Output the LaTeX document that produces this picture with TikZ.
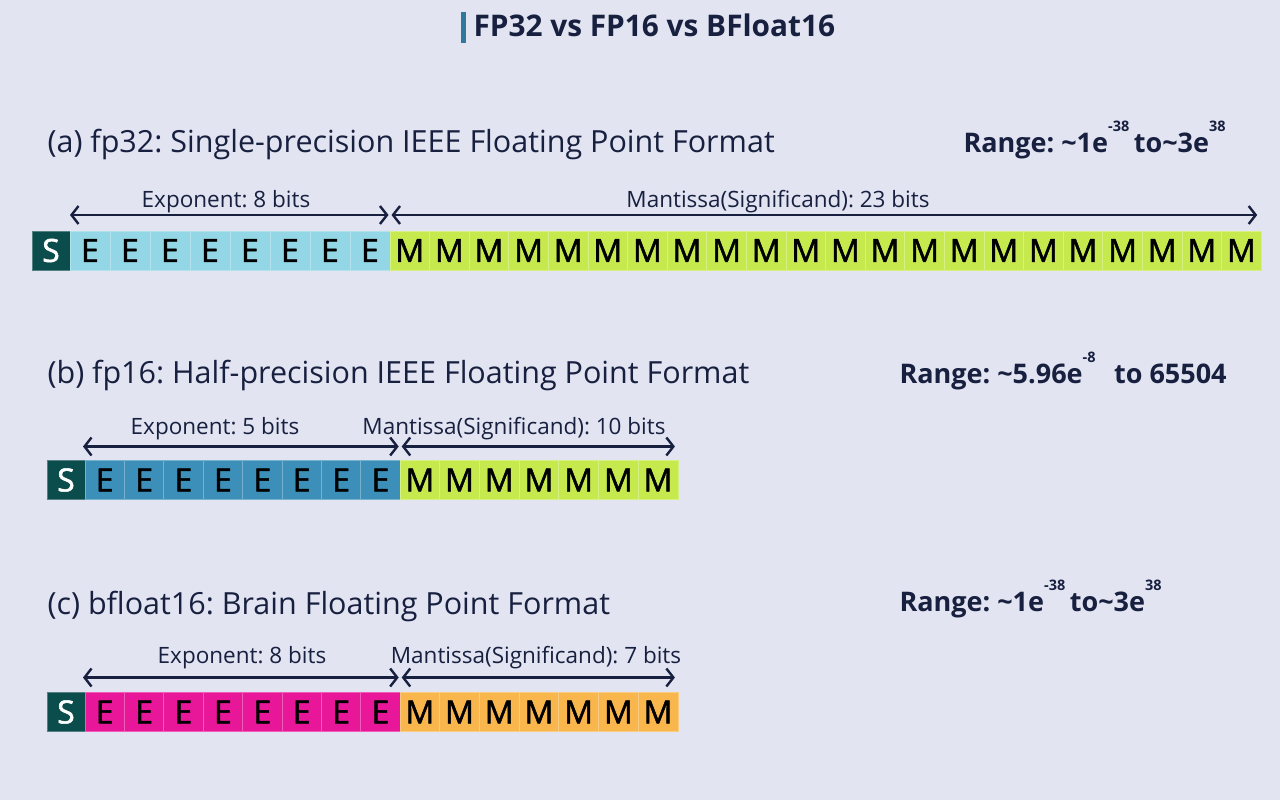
\documentclass[tikz,border=0pt]{standalone}
\usepackage{fontspec}
\setmainfont{Open Sans}
\newfontfamily\cellfont[FakeBold=1.6]{Open Sans}
\frenchspacing
\usetikzlibrary{arrows.meta}

\definecolor{bgcol}{HTML}{E2E4F2}
\definecolor{inkcol}{HTML}{18203F}
\definecolor{barcol}{HTML}{2D7A9A}
\definecolor{signcol}{HTML}{0B4C4C}
\definecolor{aexpcol}{HTML}{93D6E6}
\definecolor{bexpcol}{HTML}{3C8FB8}
\definecolor{cexpcol}{HTML}{E8179A}
\definecolor{mancol}{HTML}{C6EA4E}
\definecolor{cmancol}{HTML}{F8B64C}

\newcommand\rangepow[1]{\raisebox{21pt}{\fontsize{14.5}{14.5}\selectfont #1}}

\tikzset{
  cell/.style={fill=#1, draw=#1!70!white, line width=0.8pt, minimum height=39pt,
    inner sep=0pt, outer sep=0pt, anchor=west, text=black,
    font=\cellfont\fontsize{32}{32}\selectfont},
  signcell/.style={cell=signcol, text=white, minimum width=38pt},
  dimarrow/.style={{Straight Barb[length=7pt,width=18pt]}-{Straight Barb[length=7pt,width=18pt]},
    line width=2.4pt, draw=inkcol},
  sublabel/.style={anchor=base, text=inkcol, font=\fontsize{22.5}{22.5}\selectfont},
  heading/.style={anchor=base west, text=inkcol, font=\fontsize{30.5}{30.5}\selectfont},
  rangetext/.style={anchor=base west, text=inkcol, font=\fontsize{27}{27}\selectfont\bfseries},
}

\begin{document}
\begin{tikzpicture}[x=1pt,y=-1pt]
\fill[bgcol] (0,0) rectangle (1280,800);
\useasboundingbox (0,0) rectangle (1280,800);

% title
\fill[barcol] (461,12) rectangle (466,43);
\node[anchor=base west, text=inkcol, font=\fontsize{29.8}{29.8}\selectfont\bfseries] (title) at (470,37) {FP32 vs FP16 vs BFloat16};

% (a) fp32
\node[heading] (aHead) at (44,152) {(a) fp32: Single-precision IEEE Floating Point Format};
\node[rangetext] (aRange) at (960,152) {Range: \textasciitilde1e\rangepow{-38}\,to\textasciitilde3e\rangepow{38}};
\node[signcell] (aS) at (32,250.5) {S};
\foreach \i in {1,...,8}
  \node[cell=aexpcol, minimum width=40pt] (aE\i) at ({30+40*\i},250.5) {E};
\foreach \i in {1,...,22}
  \node[cell=mancol, minimum width=39.6pt] (aM\i) at ({390+39.6*(\i-1)},250.5) {M};
\draw[dimarrow] ([yshift=16pt]aS.north east) -- ([yshift=16pt,xshift=-1.5pt]aE8.north east);
\draw[dimarrow] ([yshift=16pt,xshift=1.5pt]aE8.north east) -- ([yshift=16pt,xshift=-4pt]aM22.north east);
\node[sublabel] (aExpLbl) at (226,207) {Exponent: 8 bits};
\node[sublabel] (aManLbl) at (778,207) {Mantissa(Significand): 23 bits};

% (b) fp16
\node[heading] (bHead) at (44,383) {(b) fp16: Half-precision IEEE Floating Point Format};
\node[rangetext] (bRange) at (896,383) {Range: \textasciitilde5.96e\rangepow{-8}\ \ \,to 65504};
\node[signcell] (bS) at (47,480) {S};
\foreach \i in {1,...,8}
  \node[cell=bexpcol, minimum width=39.4pt] (bE\i) at ({85+39.4*(\i-1)},480) {E};
\foreach \i in {1,...,7}
  \node[cell=mancol, minimum width=39.7pt] (bM\i) at ({400+39.7*(\i-1)},480) {M};
\draw[dimarrow] ([yshift=14pt,xshift=-2pt]bS.north east) -- ([yshift=14pt,xshift=-1.5pt]bE8.north east);
\draw[dimarrow] ([yshift=14pt,xshift=1.5pt]bE8.north east) -- ([yshift=14pt,xshift=-3pt]bM7.north east);
\node[sublabel] (bExpLbl) at (215,434) {Exponent: 5 bits};
\node[sublabel] (bManLbl) at (514,434) {Mantissa(Significand): 10 bits};

% (c) bfloat16
\node[heading] (cHead) at (44,614) {(c) bfloat16: Brain Floating Point Format};
\node[rangetext] (cRange) at (896,611) {Range: \textasciitilde1e\rangepow{-38}\,to\textasciitilde3e\rangepow{38}};
\node[signcell] (cS) at (47,712) {S};
\foreach \i in {1,...,8}
  \node[cell=cexpcol, minimum width=39.4pt] (cE\i) at ({85+39.4*(\i-1)},712) {E};
\foreach \i in {1,...,7}
  \node[cell=cmancol, minimum width=39.7pt] (cM\i) at ({400+39.7*(\i-1)},712) {M};
\draw[dimarrow] ([yshift=15pt,xshift=-2pt]cS.north east) -- ([yshift=15pt,xshift=-1.5pt]cE8.north east);
\draw[dimarrow] ([yshift=15pt,xshift=1.5pt]cE8.north east) -- ([yshift=15pt,xshift=-3pt]cM7.north east);
\node[sublabel] (cExpLbl) at (242,663) {Exponent: 8 bits};
\node[sublabel] (cManLbl) at (536,663) {Mantissa(Significand): 7 bits};
\end{tikzpicture}
\end{document}
